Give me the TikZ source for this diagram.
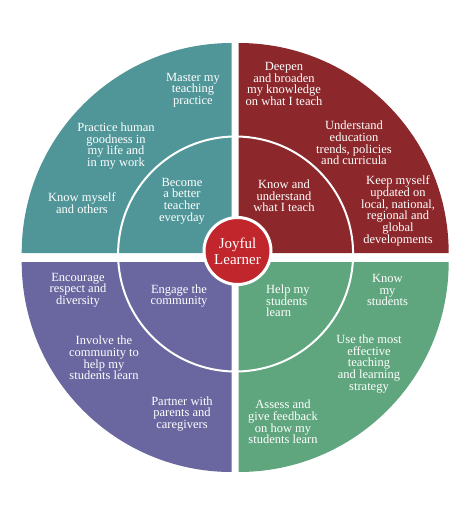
\documentclass[tikz,border=0pt]{standalone}
\usepackage{fontspec}
\setmainfont{Liberation Serif}
\definecolor{qteal}{RGB}{80,150,153}
\definecolor{qred}{RGB}{140,40,43}
\definecolor{qpurple}{RGB}{106,102,160}
\definecolor{qgreen}{RGB}{95,166,126}
\definecolor{cred}{RGB}{192,38,44}
\begin{document}
\begin{tikzpicture}[x=1pt,y=-1pt,
  lbl/.style={text=white, align=center, inner sep=0pt,
    font=\fontsize{12.5}{11.7}\selectfont},
  lbll/.style={lbl, align=left}]
\useasboundingbox (0,0) rectangle (474,523);
% quadrants
\fill[qteal] (231.7,253) -- ++(180:210) arc[start angle=180, end angle=270, radius=210] -- cycle;
\fill[qred] (238.7,253) -- ++(270:210) arc[start angle=270, end angle=360, radius=210] -- cycle;
\fill[qpurple] (231.7,262) -- ++(90:210) arc[start angle=90, end angle=180, radius=210] -- cycle;
\fill[qgreen] (238.7,262) -- ++(0:210) arc[start angle=0, end angle=90, radius=210] -- cycle;
% inner ring
\draw[white, line width=2pt] (235.6,254) circle[radius=117.5];
% center
\node[circle, fill=cred, draw=white, line width=3pt, minimum size=67pt, inner sep=0pt,
  text=white, align=center, font=\fontsize{15}{16}\selectfont] (center) at (237.5,251) {Joyful\\Learner};
% teal
\node[lbl] (t1) at (193,90) {Master my\\teaching\\practice};
\node[lbl] (t2) at (116,146) {Practice human\\goodness in\\my life and\\in my work};
\node[lbl] (t3) at (82,203) {Know myself\\and others};
\node[lbl] (t4) at (182,201) {Become\\a better\\teacher\\everyday};
% red
\node[lbl] (r1) at (284,84) {Deepen\\and broaden\\my knowledge\\on what I teach};
\node[lbl] (r2) at (354,143) {Understand\\education\\trends, policies\\and curricula};
\node[lbl] (r3) at (398,211) {Keep myself\\updated on\\local, national,\\regional and\\global\\developments};
\node[lbl] (r4) at (284,196) {Know and\\understand\\what I teach};
% purple
\node[lbl] (p1) at (78,290) {Encourage\\respect and\\diversity};
\node[lbl] (p2) at (179,296) {Engage the\\community};
\node[lbl] (p3) at (104,358) {Involve the\\community to\\help my\\students learn};
\node[lbl] (p4) at (182,414) {Partner with\\parents and\\caregivers};
% green
\node[lbll, anchor=west] (g1) at (266,301) {Help my\\students\\learn};
\node[lbl] (g2) at (387.5,290) {Know\\my\\students};
\node[lbl] (g3) at (369,364) {Use the most\\effective\\teaching\\and learning\\strategy};
\node[lbl] (g4) at (283,422) {Assess and\\give feedback\\on how my\\students learn};
\end{tikzpicture}
\end{document}
